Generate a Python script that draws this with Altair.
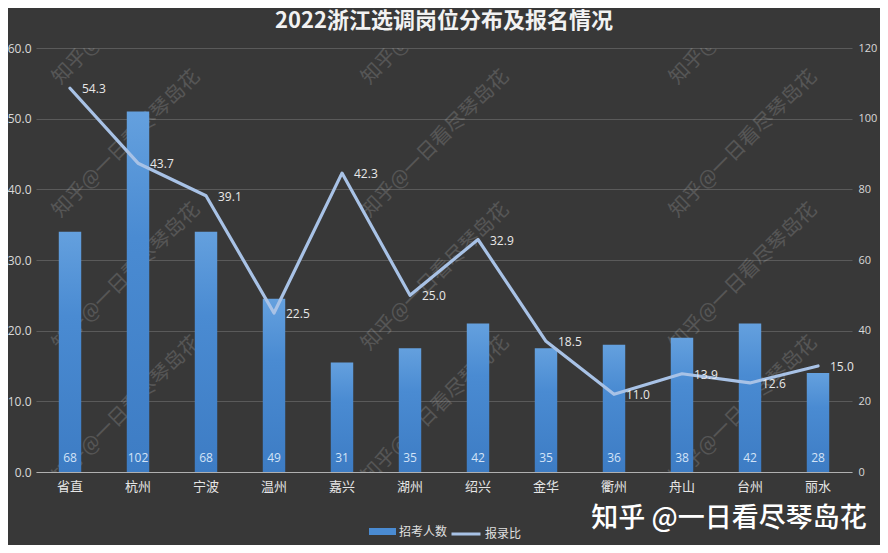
import altair as alt
import pandas as pd

categories = ["省直", "杭州", "宁波", "温州", "嘉兴", "湖州", "绍兴", "金华", "衢州", "舟山", "台州", "丽水"]
recruit = [68, 102, 68, 49, 31, 35, 42, 35, 36, 38, 42, 28]
ratio = [54.3, 43.7, 39.1, 22.5, 42.3, 25.0, 32.9, 18.5, 11.0, 13.9, 12.6, 15.0]
bar_name = "招考人数"
line_name = "报录比"
title_text = "2022浙江选调岗位分布及报名情况"
watermark = "知乎 @一日看尽琴岛花"
wm_small = "知乎@一日看尽琴岛花"

df = pd.DataFrame({
    "cat": categories,
    "recruit": recruit,
    "ratio": ratio,
    "s1": [bar_name] * len(categories),
    "s2": [line_name] * len(categories),
})

CJK = "Noto Sans CJK SC"
NUM = "Open Sans"
BAR_C = "#4a8bd2"
LINE_C = "#a8c2e6"
W, H = 816, 424

bar_grad = alt.Gradient(
    gradient="linear",
    stops=[alt.GradientStop(color="#64a0de", offset=0),
           alt.GradientStop(color="#4a8bd2", offset=0.35),
           alt.GradientStop(color="#3d7cc4", offset=1)],
    x1=0, x2=0, y1=0, y2=1,
)

x_enc = alt.X("cat:N", sort=categories, title=None,
              scale=alt.Scale(paddingInner=0, paddingOuter=0),
              axis=alt.Axis(labelAngle=0, ticks=False, labelFont=CJK, labelFontSize=13,
                            labelColor="#e6e6e6", labelPadding=8,
                            domainColor="#b0b0b0", domainWidth=1.2, grid=False))

base = alt.Chart(df)

y_right = alt.Y("recruit:Q", title=None,
                scale=alt.Scale(domain=[0, 120], nice=False),
                axis=alt.Axis(orient="right", values=[0, 20, 40, 60, 80, 100, 120], format="d",
                              grid=False, ticks=False, domain=False, labelFont=NUM,
                              labelFontSize=11, labelColor="#d9d9d9", labelPadding=6))

bars = base.mark_bar(width={"band": 0.33}, color=bar_grad).encode(
    x=x_enc,
    y=y_right,
)

# invisible twin of the bars that carries the legend entry
bar_legend = base.mark_bar(width={"band": 0.33}, opacity=0).encode(
    x=x_enc,
    y=y_right,
    fill=alt.Fill("s1:N", title=None,
                  scale=alt.Scale(domain=[bar_name], range=[BAR_C]),
                  legend=alt.Legend(orient="none", legendX=333, legendY=470,
                                    direction="horizontal",
                                    symbolType="M-1,-0.26H1V0.26H-1Z", symbolSize=729,
                                    symbolOpacity=1,
                                    labelFont=CJK, labelFontSize=12, labelColor="#e0e0e0",
                                    labelOffset=3, symbolStrokeWidth=0)),
)

bar_text = base.mark_text(font=NUM, fontSize=12, color="#d3e3f7", dy=-14).encode(
    x=x_enc,
    y=alt.Y(datum=0, scale=alt.Scale(domain=[0, 120], nice=False)),
    text=alt.Text("recruit:Q", format="d"),
)

bar_layer = alt.layer(bars, bar_legend, bar_text)

y_left = alt.Y("ratio:Q", title=None,
               scale=alt.Scale(domain=[0, 60], nice=False),
               axis=alt.Axis(orient="left", values=[0, 10, 20, 30, 40, 50, 60], format=".1f",
                             grid=True, gridColor="#5a5a5a", gridWidth=1, ticks=False,
                             domain=False, labelFont=NUM, labelFontSize=12,
                             labelColor="#d9d9d9", labelPadding=5))

line = base.mark_line(strokeWidth=3.2, strokeCap="round", strokeJoin="round").encode(
    x=x_enc,
    y=y_left,
    stroke=alt.Stroke("s2:N", title=None,
                      scale=alt.Scale(domain=[line_name], range=[LINE_C]),
                      legend=alt.Legend(orient="none", legendX=414, legendY=470,
                                        direction="horizontal",
                                        symbolType="stroke", symbolSize=841, symbolStrokeWidth=3,
                                        labelFont=CJK, labelFontSize=12, labelColor="#e0e0e0",
                                        labelOffset=3)),
)

line_text = base.mark_text(font=NUM, fontSize=12, color="#e8e8e8", align="left", dx=12, dy=1).encode(
    x=x_enc,
    y=y_left,
    text=alt.Text("ratio:Q", format=".1f"),
)

# faint diagonal watermark tiles (decoration, pixel positions relative to plot)
wm_cols = [27, 336, 644]
wm_rows = [40, 173, 306, 439]
wm_df = pd.DataFrame([{"px": c, "py": r, "t": wm_small} for c in wm_cols for r in wm_rows])
wm_tiles = alt.Chart(wm_df).mark_text(
    font=CJK, fontSize=20, color="#ffffff", opacity=0.15, angle=315,
    align="left", baseline="bottom", clip=True
).encode(
    x=alt.X("px:Q", scale=None), y=alt.Y("py:Q", scale=None), text="t:N"
)

wm = alt.Chart(pd.DataFrame({"t": [watermark]})).mark_text(
    font=CJK, fontSize=27, fontWeight=500, color="#ffffff", align="center", baseline="middle"
).encode(text="t:N", x=alt.value(693), y=alt.value(471))

line_layer = alt.layer(line, line_text)

chart = alt.layer(wm_tiles, bar_layer, line_layer, wm).resolve_scale(
    y="independent", fill="independent", stroke="independent"
).properties(
    width=W, height=H,
    autosize=alt.AutoSizeParams(type="none"),
    padding={"left": 28, "top": 40, "right": 28, "bottom": 73},
    title=alt.TitleParams(title_text, font=CJK, fontSize=22, fontWeight="bold",
                          color="#f2f2f2", anchor="middle", offset=9),
).configure(
    background="#383838",
).configure_view(stroke=None)

chart.save("out.html", embed_options={"renderer": "svg", "actions": False})
